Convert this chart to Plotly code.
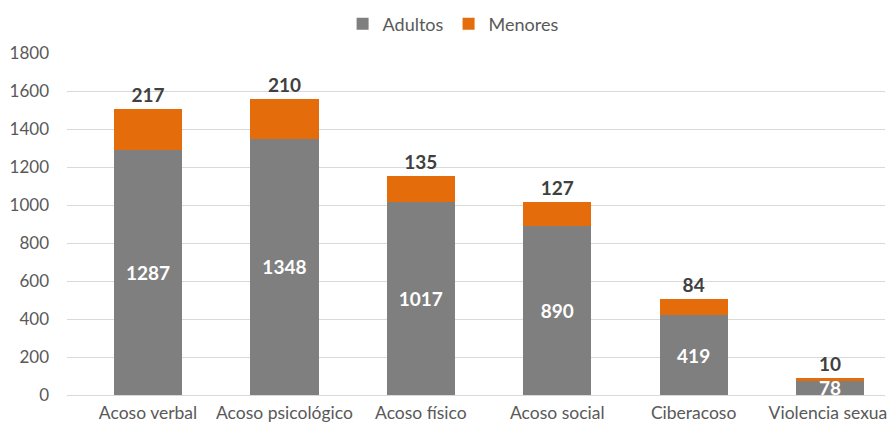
import plotly.graph_objects as go

categories = ["Acoso verbal", "Acoso psicológico", "Acoso físico", "Acoso social", "Ciberacoso", "Violencia sexual"]
adultos = [1287, 1348, 1017, 890, 419, 78]
menores = [217, 210, 135, 127, 84, 10]
y_ticks = [0, 200, 400, 600, 800, 1000, 1200, 1400, 1600, 1800]

FONT = "Lato"
GREY = "#7F7F7F"
ORANGE = "#E46C0A"

fig = go.Figure()
fig.add_trace(go.Bar(
    name="Adultos", x=list(range(len(categories))), y=adultos, marker_color=GREY,
    marker_line_width=0,
    width=0.5, text=[str(v) for v in adultos], textposition="inside", textangle=0,
    insidetextanchor="middle", constraintext="none",
    textfont=dict(family=FONT, size=19, color="white", weight="bold"),
))
fig.add_trace(go.Bar(
    name="Menores", x=list(range(len(categories))), y=menores, marker_color=ORANGE,
    marker_line_width=0,
    width=0.5, text=[str(v) for v in menores], textposition="outside", textangle=0,
    constraintext="none", cliponaxis=False,
    textfont=dict(family=FONT, size=19, color="#404040", weight="bold"),
))
fig.update_layout(
    barmode="stack",
    width=888, height=414,
    margin=dict(l=59, r=11, t=45, b=27, autoexpand=False),
    plot_bgcolor="white", paper_bgcolor="white",
    font=dict(family=FONT, size=17, color="#595959"),
    legend=dict(orientation="h", x=0.472, xanchor="center", y=1.085, yanchor="middle",
                font=dict(family=FONT, size=18, color="#595959"), traceorder="normal",
                itemwidth=30),
    showlegend=True,
)
fig.update_xaxes(
    tickmode="array", tickvals=list(range(len(categories))), ticktext=categories,
    range=[-0.594, 5.403], showgrid=False, showline=False, ticks="",
    tickfont=dict(family=FONT, size=17.5, color="#595959"), ticklabelstandoff=5,
    ticklabeloverflow="allow",
)
fig.update_yaxes(
    range=[0, 1800], tickvals=y_ticks, showgrid=True, gridcolor="#D9D9D9", gridwidth=1,
    zeroline=True, zerolinecolor="#D9D9D9", zerolinewidth=1, showline=False, ticks="",
    tickfont=dict(family=FONT, size=17, color="#595959"), ticklabelstandoff=17,
)
fig.write_html("out.html")
